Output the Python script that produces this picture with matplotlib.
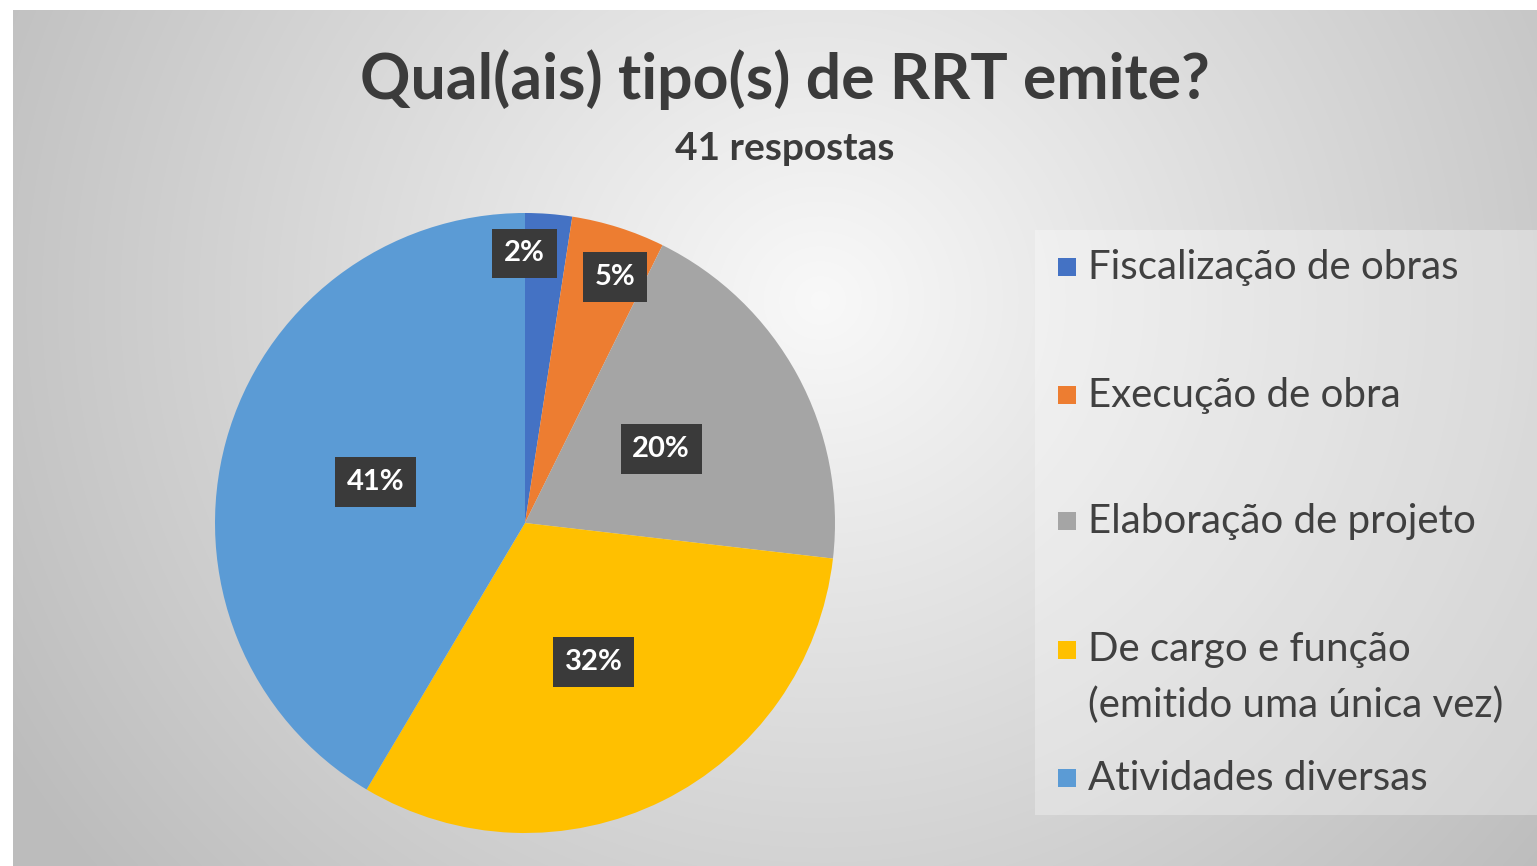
import numpy as np
import matplotlib
matplotlib.use("Agg")
import matplotlib.pyplot as plt
from matplotlib.patches import Rectangle

# ---------------- data ----------------
categories = ["Fiscalização de obras", "Execução de obra", "Elaboração de projeto",
              "De cargo e função\n(emitido uma única vez)", "Atividades diversas"]
counts = [1, 2, 8, 13, 17]
pct_labels = ["2%", "5%", "20%", "32%", "41%"]
colors = ["#4472C4", "#ED7D31", "#A5A5A5", "#FFC000", "#5B9BD5"]
title = "Qual(ais) tipo(s) de RRT emite?"
subtitle = "41 respostas"

W, H = 1537, 866
fig = plt.figure(figsize=(W / 100, H / 100), dpi=100)
plt.rcParams['font.family'] = ['Lato', 'DejaVu Sans']

# ---------------- background gradient ----------------
bg = fig.add_axes([0, 0, 1, 1], zorder=0)
yy, xx = np.mgrid[0:H, 0:W]
d = np.hypot(xx - 820, (yy - 300) * 1.05)
val = np.clip(0.975 - 0.2 * d / 800, 0.74, 1.0)
img = np.dstack([val, val, val])
img[:10, :, :] = 1.0
img[:, :13, :] = 1.0
bg.imshow(img, aspect='auto', extent=[0, W, H, 0])
bg.set_xlim(0, W)
bg.set_ylim(H, 0)
bg.axis('off')
# legend background
bg.add_patch(Rectangle((1035, 230), W - 1035, 585, fc='white', ec='none', alpha=0.3))

# ---------------- pie ----------------
cx, cy, r = 525, 523, 310
ax = fig.add_axes([(cx - r) / W, 1 - (cy + r) / H, 2 * r / W, 2 * r / H], zorder=2)
wedges, _ = ax.pie(counts, colors=colors, startangle=90, counterclock=False,
                   radius=1.0, wedgeprops=dict(linewidth=0))
ax.set_xlim(-1, 1)
ax.set_ylim(-1, 1)
ax.axis('off')

label_dist = [0.87, 0.845, 0.50, 0.50, 0.50]
angle_shift = [4.5, -2.5, 0.0, 0.0, 0.0]
for w, lab, dist, sh in zip(wedges, pct_labels, label_dist, angle_shift):
    ang = np.deg2rad((w.theta1 + w.theta2) / 2 + sh)
    ax.text(dist * np.cos(ang), dist * np.sin(ang), lab, ha='center', va='center',
            color='white', fontsize=21, fontweight='bold', zorder=5,
            bbox=dict(boxstyle='square,pad=0.4', fc='#3a3a3a', ec='none'))

# ---------------- titles ----------------
fig.text(785 / W, 1 - 80 / H, title, ha='center', va='center', fontsize=45,
         fontweight='bold', color='#3b3b3b', zorder=3)
fig.text(785 / W, 1 - 148 / H, subtitle, ha='center', va='center', fontsize=28,
         fontweight='bold', color='#3b3b3b', zorder=3)

# ---------------- legend ----------------
row_y = [267, 395, 521, 650, 778]
for cat, col, y in zip(categories, colors, row_y):
    bg.add_patch(Rectangle((1058, y - 9), 18, 18, fc=col, ec='none', zorder=3))
    two = '\n' in cat
    bg.text(1088, y + 27.5 if two else y, cat, ha='left', va='center',
            fontsize=29, color='#404040', zorder=3, linespacing=1.62)

fig.savefig("out.png", dpi=100)
